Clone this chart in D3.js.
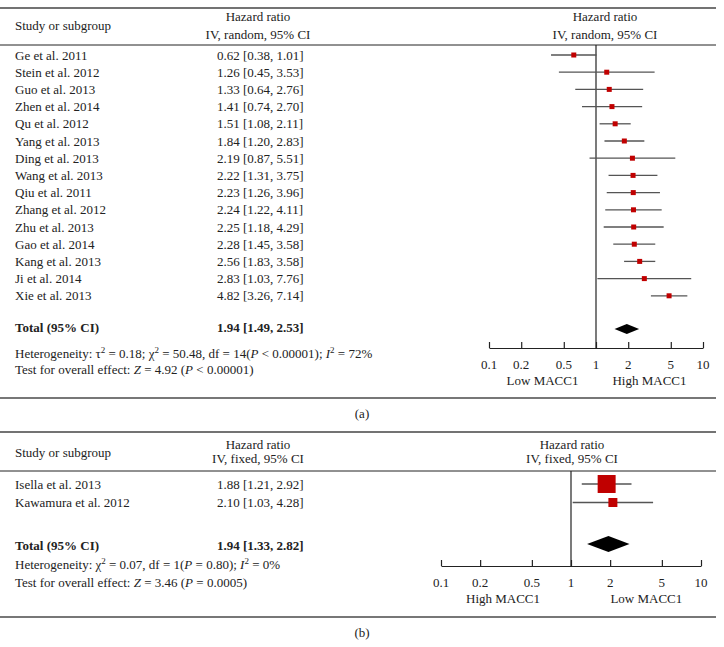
<!DOCTYPE html>
<html><head><meta charset="utf-8">
<script src="https://cdn.jsdelivr.net/npm/d3@7"></script>
<style>body{margin:0;background:#fff}svg{display:block}text{font-family:"Liberation Serif","Times New Roman",serif;font-size:13px;fill:#222}</style>
</head><body><svg id="c" width="724" height="647"></svg>
<script>
// ---------- data: panel (a) ----------
const studiesA = ["Ge et al. 2011","Stein et al. 2012","Guo et al. 2013","Zhen et al. 2014","Qu et al. 2012","Yang et al. 2013","Ding et al. 2013","Wang et al. 2013","Qiu et al. 2011","Zhang et al. 2012","Zhu et al. 2013","Gao et al. 2014","Kang et al. 2013","Ji et al. 2014","Xie et al. 2013"];
const hrA   = [0.62,1.26,1.33,1.41,1.51,1.84,2.19,2.22,2.23,2.24,2.25,2.28,2.56,2.83,4.82];
const lowA  = [0.38,0.45,0.64,0.74,1.08,1.20,0.87,1.31,1.26,1.22,1.18,1.45,1.83,1.03,3.26];
const highA = [1.01,3.53,2.76,2.70,2.11,2.83,5.51,3.75,3.96,4.11,4.29,3.58,3.58,7.76,7.14];
const totalA = {hr:1.94, low:1.49, high:2.53};
const hetA = "Heterogeneity: τ² = 0.18; χ² = 50.48, df = 14 (P < 0.00001); I² = 72%";
const testA = "Test for overall effect: Z = 4.92 (P < 0.00001)";
const labelsA = ["Low MACC1","High MACC1"];

// ---------- data: panel (b) ----------
const studiesB = ["Isella et al. 2013","Kawamura et al. 2012"];
const hrB   = [1.88,2.10];
const lowB  = [1.21,1.03];
const highB = [2.92,4.28];
const weightB = [80,20];
const totalB = {hr:1.94, low:1.33, high:2.82};
const labelsB = ["High MACC1","Low MACC1"];

const tickVals = [0.1,0.2,0.5,1,2,5,10];
const tickLabels = ["0.1","0.2","0.5","1","2","5","10"];

const svg = d3.select("#c");
const fmt = v => v.toFixed(2);
const ciText = (h,l,u) => `${fmt(h)} [${fmt(l)}, ${fmt(u)}]`;

function hline(y, color, w){
  svg.append("line").attr("x1",0).attr("x2",716).attr("y1",y).attr("y2",y)
    .attr("stroke",color).attr("stroke-width",w);
}
// rich text with italic P / Z and superscripts
function richText(x, y, parts){
  const t = svg.append("text").attr("x",x).attr("y",y);
  parts.forEach(p=>{
    const ts = t.append("tspan").text(p.t);
    if(p.i) ts.attr("font-style","italic");
    if(p.sup) ts.attr("baseline-shift","super").attr("font-size","9px");
  });
  return t;
}

function panel(cfg){
  const {top, headLineY, rowY, names, hr, lo, hi, x, sizes, total, totalY, diamondH, axisY, labelX, headerSub, leftHeadY, rightHeadX, hetParts, testStr, hetY, testY, bottomY, capY, cap, weightSide} = cfg;
  hline(top,"#444",1.5);
  // headers
  svg.append("text").attr("x",15).attr("y",leftHeadY.study).text("Study or subgroup");
  [[258],[rightHeadX]].forEach(([cx])=>{
    svg.append("text").attr("x",cx).attr("y",leftHeadY.l1).attr("text-anchor","middle").text("Hazard ratio");
    svg.append("text").attr("x",cx).attr("y",leftHeadY.l2).attr("text-anchor","middle").text(headerSub);
  });
  hline(headLineY,"#222",1);
  // rows
  names.forEach((n,i)=>{
    const y = rowY(i);
    svg.append("text").attr("x",15).attr("y",y+4.5).text(n);
    svg.append("text").attr("x",217).attr("y",y+4.5).text(ciText(hr[i],lo[i],hi[i]));
  });
  // null line
  svg.append("line").attr("x1",x(1)).attr("x2",x(1)).attr("y1",headLineY).attr("y2",axisY)
    .attr("stroke","#222").attr("stroke-width",1.2);
  // CI lines and squares
  names.forEach((n,i)=>{
    const y = rowY(i);
    svg.append("line").attr("x1",x(lo[i])).attr("x2",x(hi[i])).attr("y1",y).attr("y2",y)
      .attr("stroke","#555").attr("stroke-width",1.3);
    const s = sizes(i);
    svg.append("rect").attr("x",x(hr[i])-s/2).attr("y",y-s/2).attr("width",s).attr("height",s)
      .attr("fill","#c00000");
  });
  // total
  const tb = svg.append("text").attr("x",15).attr("y",totalY+4.5).attr("font-weight","bold").text("Total (95% CI)");
  svg.append("text").attr("x",217).attr("y",totalY+4.5).attr("font-weight","bold").text(ciText(total.hr,total.low,total.high));
  const dy = totalY+cfg.diamondDy;
  svg.append("path").attr("d",`M${x(total.low)},${dy} L${x(total.hr)},${dy-diamondH} L${x(total.high)},${dy} L${x(total.hr)},${dy+diamondH} Z`).attr("fill","#000");
  // stats
  richText(15, hetY, hetParts);
  richText(15, testY, testStr);
  // axis
  const ax = svg.append("g").attr("transform",`translate(0,${axisY})`)
    .call(d3.axisTop(x).tickValues(tickVals).tickFormat("").tickSize(6).tickSizeOuter(0));
  ax.select(".domain").attr("stroke","#222").attr("stroke-width",1.2);
  ax.selectAll(".tick line").attr("stroke","#222").attr("stroke-width",1.2);
  tickVals.forEach((v,i)=>{
    svg.append("text").attr("x",x(v)).attr("y",axisY+21).attr("text-anchor","middle").text(tickLabels[i]);
  });
  cfg.sideLabels.forEach((l,i)=>{
    svg.append("text").attr("x",labelX[i]).attr("y",axisY+37).attr("text-anchor","middle").text(l);
  });
  hline(bottomY,"#777",2);
  svg.append("text").attr("x",362).attr("y",capY).attr("text-anchor","middle").text(cap);
}

const xA = d3.scaleLog().domain([0.1,10]).range([489,703]);
panel({
  top:8, headLineY:45, rowY:i=>55+i*17.2, names:studiesA, hr:hrA, lo:lowA, hi:highA, x:xA,
  sizes:()=>5, total:totalA, totalY:327, diamondDy:2, diamondH:5, axisY:348,
  labelX:[xA(Math.sqrt(0.1)), xA(Math.sqrt(10))], sideLabels:labelsA,
  headerSub:"IV, random, 95% CI", leftHeadY:{study:30,l1:21,l2:39}, rightHeadX:605,
  hetParts:[{t:"Heterogeneity: τ"},{t:"2",sup:1},{t:" = 0.18; χ"},{t:"2",sup:1},{t:" = 50.48, df = 14("},{t:"P",i:1},{t:" < 0.00001); "},{t:"I",i:1},{t:"2",sup:1},{t:" = 72%"}],
  testStr:[{t:"Test for overall effect: "},{t:"Z",i:1},{t:" = 4.92 ("},{t:"P",i:1},{t:" < 0.00001)"}],
  hetY:358, testY:374, bottomY:398, capY:418, cap:"(a)"
});

const xB = d3.scaleLog().domain([0.1,10]).range([441,701]);
panel({
  top:432, headLineY:471, rowY:i=>484+i*18.5, names:studiesB, hr:hrB, lo:lowB, hi:highB, x:xB,
  sizes:i=>2.01*Math.sqrt(weightB[i]), total:totalB, totalY:545, diamondDy:-1, diamondH:8, axisY:566,
  labelX:[xB(0.3), xB(3.8)], sideLabels:labelsB,
  headerSub:"IV, fixed, 95% CI", leftHeadY:{study:457,l1:449,l2:463}, rightHeadX:572,
  hetParts:[{t:"Heterogeneity: χ"},{t:"2",sup:1},{t:" = 0.07, df = 1("},{t:"P",i:1},{t:" = 0.80); "},{t:"I",i:1},{t:"2",sup:1},{t:" = 0%"}],
  testStr:[{t:"Test for overall effect: "},{t:"Z",i:1},{t:" = 3.46 ("},{t:"P",i:1},{t:" = 0.0005)"}],
  hetY:569, testY:587, bottomY:617, capY:637, cap:"(b)"
});
</script></body></html>
